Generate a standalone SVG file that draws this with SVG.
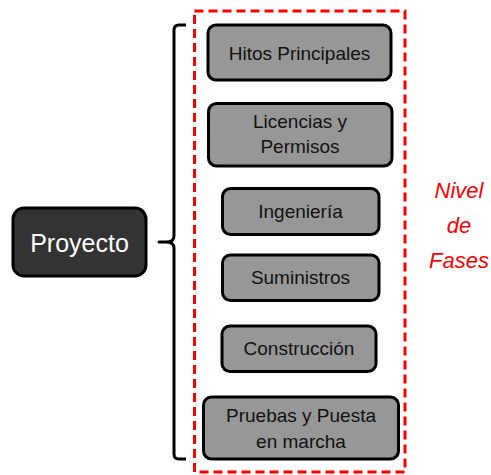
<svg xmlns="http://www.w3.org/2000/svg" width="491" height="475" viewBox="0 0 491 475">
<style>
.phase rect{fill:#979797;stroke:#000;stroke-width:3}
.phase text{font-family:"Liberation Sans",Arial,sans-serif;font-size:19px;fill:#111;text-anchor:middle}
.brace{fill:none;stroke:#000;stroke-width:3;stroke-linejoin:round}
</style>
<rect width="491" height="475" fill="#fff"/>
<g id="fases-frame">
<rect x="194.5" y="11" width="210.5" height="461" fill="none" stroke="#ff0000" stroke-width="3" stroke-dasharray="9,5"/>
<text x="459" y="198" font-family="Liberation Sans,Arial,sans-serif" font-style="italic" font-size="22" fill="#ff0000" text-anchor="middle">Nivel</text>
<text x="459" y="233" font-family="Liberation Sans,Arial,sans-serif" font-style="italic" font-size="22" fill="#ff0000" text-anchor="middle">de</text>
<text x="459" y="268" font-family="Liberation Sans,Arial,sans-serif" font-style="italic" font-size="22" fill="#ff0000" text-anchor="middle">Fases</text>
</g>
<g id="connectors">
<path class="brace" d="M186,25 L179,25 Q174,25 174,30 L174,236 Q174,242 166,242 L159,242 L166,242 Q174,242 174,248 L174,454 Q174,459 179,459 L186,459"/>
</g>
<g id="proyecto">
<rect x="13" y="208" width="133" height="68" rx="11" fill="#333333" stroke="#000" stroke-width="3"/>
<text x="79.5" y="251.5" font-family="Liberation Sans,Arial,sans-serif" font-size="25" fill="#fff" text-anchor="middle">Proyecto</text>
</g>
<g id="hitos" class="phase">
<rect x="208" y="25" width="183" height="55" rx="8"/>
<text x="299.5" y="60">Hitos Principales</text>
</g>
<g id="licencias" class="phase">
<rect x="208.5" y="103.5" width="183.5" height="62.5" rx="8"/>
<text x="300" y="128">Licencias y</text>
<text x="300" y="153">Permisos</text>
</g>
<g id="ingenieria" class="phase">
<rect x="222.5" y="188.5" width="156.5" height="46" rx="8"/>
<text x="300.5" y="217.5">Ingeniería</text>
</g>
<g id="suministros" class="phase">
<rect x="222.5" y="255" width="156.5" height="45.5" rx="8"/>
<text x="300.5" y="284">Suministros</text>
</g>
<g id="construccion" class="phase">
<rect x="222" y="326" width="154" height="45.5" rx="8"/>
<text x="299" y="355">Construcción</text>
</g>
<g id="pruebas" class="phase">
<rect x="203.5" y="397" width="195" height="62" rx="8"/>
<text x="301" y="421.5">Pruebas y Puesta</text>
<text x="301" y="447.5">en marcha</text>
</g>
</svg>
